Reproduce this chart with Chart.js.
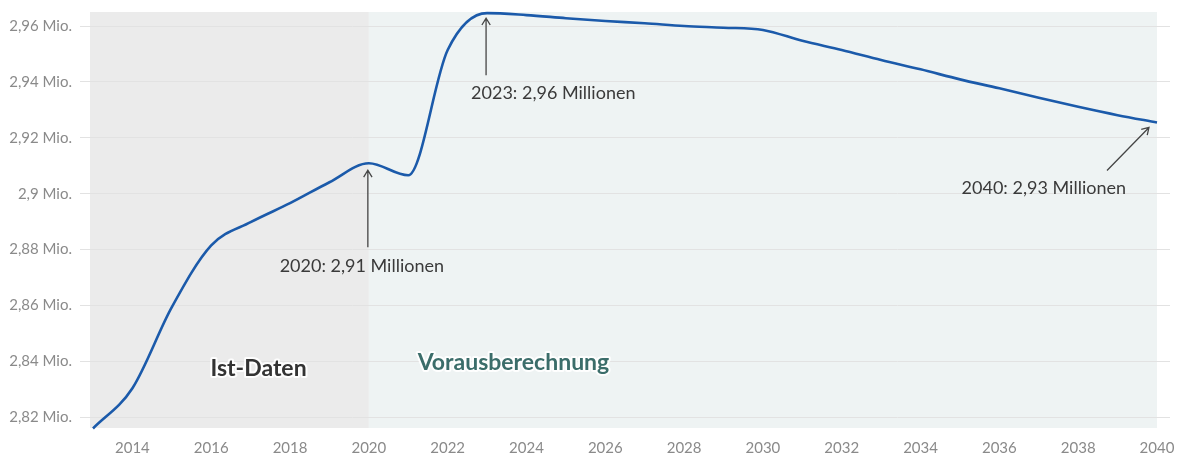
<!DOCTYPE html>
<html lang="de">
<head>
<meta charset="utf-8">
<title>Einwohner Vorausberechnung</title>
<script src="https://cdn.jsdelivr.net/npm/chart.js@4/dist/chart.umd.min.js"></script>
<style>
  html, body { margin: 0; padding: 0; background: #fff; }
  #wrap { width: 1184px; height: 456px; }
</style>
</head>
<body>
<div id="wrap"><canvas id="bevoelkerung" width="1184" height="456"></canvas></div>
<script>
// Jahre und Einwohner (Mio.)
const years = [2013, 2014, 2015, 2016, 2017, 2018, 2019, 2020, 2021, 2022, 2023, 2024, 2025, 2026,
  2027, 2028, 2029, 2030, 2031, 2032, 2033, 2034, 2035, 2036, 2037, 2038, 2039, 2040];
const einwohner = [2.8160, 2.8304, 2.8594, 2.8815, 2.8898, 2.8966, 2.9041, 2.9109, 2.9066, 2.9514,
  2.9646, 2.9639, 2.9628, 2.9618, 2.9610, 2.9600, 2.9594, 2.9586, 2.9547, 2.9514, 2.9478,
  2.9445, 2.9409, 2.9377, 2.9343, 2.9311, 2.9281, 2.9255];

const xTicks = [2014, 2016, 2018, 2020, 2022, 2024, 2026, 2028, 2030, 2032, 2034, 2036, 2038, 2040];
const yTicks = [2.82, 2.84, 2.86, 2.88, 2.90, 2.92, 2.94, 2.96];

const istStart = 2013;
const prognoseStart = 2020;
const prognoseEnde = 2040;

const markierungen = [
  { year: 2020, text: '2020: 2,91 Millionen' },
  { year: 2023, text: '2023: 2,96 Millionen' },
  { year: 2040, text: '2040: 2,93 Millionen' }
];

const fontFamily = 'Lato, "Noto Sans", sans-serif';

function formatMio(v) {
  return String(+v.toFixed(2)).replace('.', ',') + ' Mio.';
}

function pfeil(ctx, x1, y1, x2, y2) {
  const a = Math.atan2(y2 - y1, x2 - x1);
  const len = 8;
  ctx.beginPath();
  ctx.moveTo(x1, y1);
  ctx.lineTo(x2, y2);
  ctx.moveTo(x2 - len * Math.cos(a - 0.55), y2 - len * Math.sin(a - 0.55));
  ctx.lineTo(x2, y2);
  ctx.lineTo(x2 - len * Math.cos(a + 0.55), y2 - len * Math.sin(a + 0.55));
  ctx.stroke();
}

function haloText(ctx, text, x, y, color) {
  ctx.save();
  ctx.lineJoin = 'round';
  ctx.strokeStyle = 'rgba(255,255,255,0.9)';
  ctx.lineWidth = 4;
  ctx.strokeText(text, x, y);
  ctx.fillStyle = color;
  ctx.fillText(text, x, y);
  ctx.restore();
}

// Hintergrundflaechen: Ist-Daten grau, Vorausberechnung tuerkis
const bereichePlugin = {
  id: 'bereiche',
  beforeDraw(chart) {
    const { ctx, chartArea, scales: { x } } = chart;
    const x0 = x.getPixelForValue(istStart) - 3;
    const x1 = x.getPixelForValue(prognoseStart);
    const x2 = x.getPixelForValue(prognoseEnde);
    ctx.save();
    ctx.fillStyle = '#ebebeb';
    ctx.fillRect(x0, chartArea.top, x1 - x0, chartArea.bottom - chartArea.top);
    ctx.fillStyle = '#eef3f3';
    ctx.fillRect(x1, chartArea.top, x2 - x1, chartArea.bottom - chartArea.top);
    ctx.restore();
  },
  afterDatasetsDraw(chart) {
    const { ctx, scales: { x, y } } = chart;
    ctx.save();
    // Bereichsnamen
    ctx.font = 'bold 23px ' + fontFamily;
    ctx.textAlign = 'center';
    ctx.textBaseline = 'middle';
    haloText(ctx, 'Ist-Daten', x.getPixelForValue(2017.2), y.getPixelForValue(2.8373), '#333333');
    haloText(ctx, 'Vorausberechnung', x.getPixelForValue(2023.67), y.getPixelForValue(2.8394), '#3b6d6a');

    // Markierungen mit Pfeilen
    ctx.strokeStyle = '#454545';
    ctx.lineWidth = 1.3;
    ctx.fillStyle = '#3a3a3a';
    ctx.font = '18px ' + fontFamily;
    ctx.textBaseline = 'middle';
    markierungen.forEach((m, i) => {
      const idx = years.indexOf(m.year);
      const px = x.getPixelForValue(m.year);
      const py = y.getPixelForValue(einwohner[idx]);
      if (i === 0) {
        pfeil(ctx, px - 1, py + 84, px - 1, py + 7);
        ctx.textAlign = 'center';
        ctx.fillText(m.text, px - 7, py + 103);
      } else if (i === 1) {
        pfeil(ctx, px - 1, py + 62, px - 1, py + 5);
        ctx.textAlign = 'left';
        ctx.fillText(m.text, px - 16, py + 80);
      } else {
        pfeil(ctx, px - 50, py + 48, px - 8, py + 5);
        ctx.textAlign = 'right';
        ctx.fillText(m.text, px - 31, py + 66);
      }
    });
    ctx.restore();
  }
};

const ctx = document.getElementById('bevoelkerung').getContext('2d');

new Chart(ctx, {
  type: 'line',
  data: {
    labels: years,
    datasets: [{
      label: 'Einwohner',
      data: years.map((yr, i) => ({ x: yr, y: einwohner[i] })),
      borderColor: '#1b5aaa',
      borderWidth: 2.6,
      pointRadius: 0,
      fill: false,
      cubicInterpolationMode: 'monotone',
      clip: false
    }]
  },
  options: {
    responsive: false,
    animation: false,
    layout: { padding: { top: 12, right: 14, left: 0, bottom: 0 } },
    scales: {
      x: {
        type: 'linear',
        min: 2012.67,
        max: 2040.33,
        grid: { display: false },
        border: { display: false },
        afterBuildTicks(scale) {
          scale.ticks = xTicks.map(v => ({ value: v }));
        },
        afterFit(scale) {
          scale.height = 28;
          scale.paddingLeft = 0;
          scale.paddingRight = 0;
        },
        ticks: {
          color: '#8a8a8a',
          font: { family: fontFamily, size: 15 },
          padding: 3,
          maxRotation: 0,
          autoSkip: false,
          callback: v => String(v)
        }
      },
      y: {
        min: 2.81617,
        max: 2.96501,
        grid: { color: '#e2e2e2', lineWidth: 1, drawTicks: false },
        border: { display: false },
        afterBuildTicks(scale) {
          scale.ticks = yTicks.map(v => ({ value: v }));
        },
        afterFit(scale) {
          scale.width = 80;
          scale.paddingTop = 0;
          scale.paddingBottom = 0;
        },
        ticks: {
          color: '#8a8a8a',
          font: { family: fontFamily, size: 15 },
          padding: 8,
          callback: v => formatMio(v)
        }
      }
    },
    plugins: {
      legend: { display: false },
      tooltip: { enabled: false }
    }
  },
  plugins: [bereichePlugin]
});
</script>
</body>
</html>
